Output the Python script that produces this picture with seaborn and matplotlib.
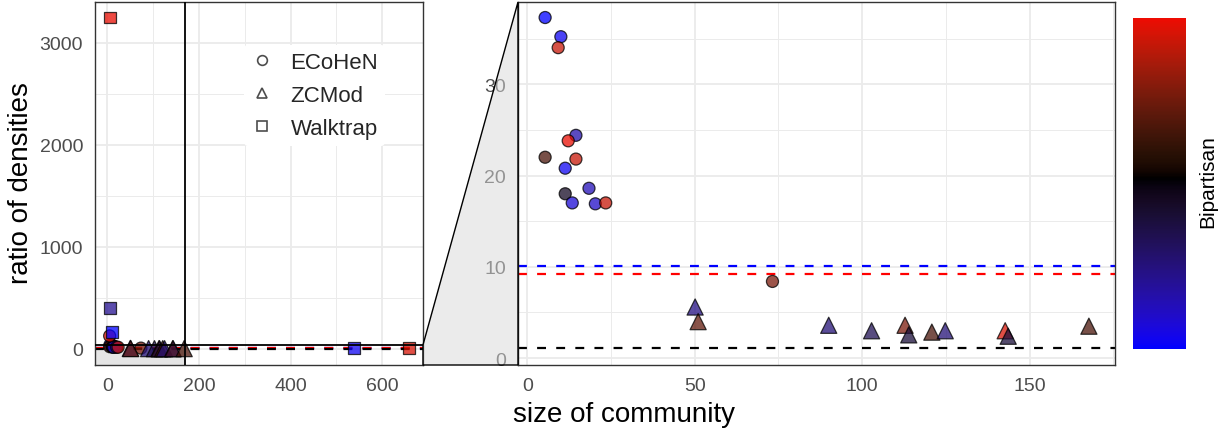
import numpy as np
import pandas as pd
import matplotlib
matplotlib.use("Agg")
import matplotlib.pyplot as plt
import seaborn as sns
from matplotlib.colors import ListedColormap, Normalize
from matplotlib.patches import Polygon, Rectangle
from matplotlib.lines import Line2D
from matplotlib.ticker import MultipleLocator

# ---- community measurements per detection method ----
ecohen_size = [5.3, 10.0, 9.2, 14.5, 12.2, 5.3, 14.5, 11.3, 18.4, 11.3, 13.4, 20.3, 23.4, 73.2, 5.0]
ecohen_ratio = [37.3, 35.2, 34.0, 24.4, 23.8, 22.0, 21.8, 20.8, 18.6, 18.0, 17.0, 16.9, 17.0, 8.4, 128.0]
ecohen_bip = [-1.0, -0.95, 0.8, -0.7, 0.92, 0.3, 0.8, -0.95, -0.75, -0.15, -0.85, -0.8, 0.8, 0.5, 0.9]

zcmod_size = [50.1, 51.0, 90.0, 102.8, 112.8, 113.9, 120.8, 124.8, 142.7, 143.6, 167.7]
zcmod_ratio = [5.6, 4.0, 3.6, 3.0, 3.6, 2.55, 2.85, 3.0, 3.0, 2.4, 3.5]
zcmod_bip = [-0.55, 0.4, -0.5, -0.35, 0.5, -0.25, 0.3, -0.5, 0.85, -0.25, 0.3]

walktrap_size = [5.0, 5.0, 10.0, 538.0, 659.0]
walktrap_ratio = [3245.0, 401.0, 163.0, 7.0, 7.0]
walktrap_bip = [0.92, -0.6, -1.0, -0.95, 0.85]

methods = ["ECoHeN", "ZCMod", "Walktrap"]

# reference density ratios (dashed lines)
ref_ratio = [10.1, 9.25, 1.1]
ref_color = ["#0000ff", "#ff0000", "#000000"]

# zoom window drawn in the right panel
zoom_x = (-2.8, 175.5)
zoom_y = (-0.75, 39.0)
full_x = (-27.0, 689.0)
full_y = (-157.0, 3397.0)
zoom_mark_x = 170.0
zoom_mark_y = 40.0

df = pd.concat([
    pd.DataFrame({"size": ecohen_size, "ratio": ecohen_ratio, "bip": ecohen_bip, "method": "ECoHeN"}),
    pd.DataFrame({"size": zcmod_size, "ratio": zcmod_ratio, "bip": zcmod_bip, "method": "ZCMod"}),
    pd.DataFrame({"size": walktrap_size, "ratio": walktrap_ratio, "bip": walktrap_bip, "method": "Walktrap"}),
], ignore_index=True)

# ---- blue / black / red diverging palette interpolated in CIELAB ----
_M = np.array([[0.4124564, 0.3575761, 0.1804375],
               [0.2126729, 0.7151522, 0.0721750],
               [0.0193339, 0.1191920, 0.9503041]])
_W = np.array([0.95047, 1.0, 1.08883])


def to_lab(rgb):
    c = np.asarray(rgb, float)
    lin = np.where(c <= 0.04045, c / 12.92, ((c + 0.055) / 1.055) ** 2.4)
    t = (lin @ _M.T) / _W
    d = 6 / 29
    f = np.where(t > d ** 3, np.cbrt(t), t / (3 * d * d) + 4 / 29)
    return np.stack([116 * f[..., 1] - 16,
                     500 * (f[..., 0] - f[..., 1]),
                     200 * (f[..., 1] - f[..., 2])], -1)


def from_lab(lab):
    fy = (lab[..., 0] + 16) / 116
    f = np.stack([fy + lab[..., 1] / 500, fy, fy - lab[..., 2] / 200], -1)
    d = 6 / 29
    t = np.where(f > d, f ** 3, 3 * d * d * (f - 4 / 29))
    lin = np.clip((t * _W) @ np.linalg.inv(_M).T, 0, 1)
    c = np.where(lin <= 0.0031308, 12.92 * lin, 1.055 * lin ** (1 / 2.4) - 0.055)
    return np.clip(c, 0, 1)


vmin, vmax = -1.0, 0.938
lab_blue, lab_black, lab_red = to_lab([0, 0, 1]), to_lab([0, 0, 0]), to_lab([1, 0, 0])
vals = np.linspace(vmin, vmax, 256)
span = max(abs(vmin), abs(vmax))
cols = []
for v in vals:
    s = abs(v) / span
    end = lab_blue if v < 0 else lab_red
    cols.append(from_lab(lab_black + s * (end - lab_black)))
cmap = ListedColormap(np.array(cols))
norm = Normalize(vmin=vmin, vmax=vmax)

# ---- figure ----
sns.set_style("white")
plt.rcParams["font.family"] = ["Liberation Sans", "DejaVu Sans"]

W, H = 1225, 431
fig = plt.figure(figsize=(W / 100, H / 100), dpi=100)
axL = fig.add_axes([95 / W, 1 - 366 / H, 328 / W, 363 / H])
axR = fig.add_axes([518 / W, 1 - 366 / H, 597 / W, 363 / H])
cax = fig.add_axes([1133 / W, 1 - 350 / H, 53 / W, 331 / H])


def style(ax, xmaj, ymaj):
    ax.set_facecolor("white")
    ax.xaxis.set_major_locator(MultipleLocator(xmaj))
    ax.xaxis.set_minor_locator(MultipleLocator(xmaj / 2))
    ax.yaxis.set_major_locator(MultipleLocator(ymaj))
    ax.yaxis.set_minor_locator(MultipleLocator(ymaj / 2))
    ax.grid(which="major", color="#ebebeb", lw=1.3)
    ax.grid(which="minor", color="#ebebeb", lw=0.7)
    ax.set_axisbelow(True)
    for sp in ax.spines.values():
        sp.set_color("#333333")
        sp.set_linewidth(1.0)
    ax.tick_params(which="major", length=4, width=1.0, color="#333333",
                   labelcolor="#4d4d4d", labelsize=14, pad=4.5)
    ax.tick_params(which="minor", length=0)
    ax.set_xlabel("")
    ax.set_ylabel("")


for ax in (axL, axR):
    for yv, c in zip(ref_ratio, ref_color):
        ax.axhline(yv, color=c, lw=1.6, dashes=(4.0, 4.6), zorder=2)
    sns.scatterplot(data=df, x="size", y="ratio", hue="bip", palette=cmap, hue_norm=norm,
                    style="method", markers={"ECoHeN": "o", "ZCMod": "^", "Walktrap": "s"},
                    size="method", sizes={"ECoHeN": 75, "ZCMod": 135, "Walktrap": 72},
                    alpha=0.75, edgecolor="black", linewidth=0.9, legend=False, ax=ax, zorder=3)

axL.set_xlim(*full_x)
axL.set_ylim(*full_y)
axR.set_xlim(*zoom_x)
axR.set_ylim(*zoom_y)
style(axL, 200, 1000)
style(axR, 50, 10)

# zoom indicator on the overview panel
axL.add_patch(Rectangle((full_x[0], full_y[0]), zoom_mark_x - full_x[0], zoom_mark_y - full_y[0],
                        facecolor="#e5e5e5", edgecolor="none", zorder=1))
axL.axvline(zoom_mark_x, color="black", lw=1.3, zorder=4)
axL.axhline(zoom_mark_y, color="black", lw=1.3, zorder=4)

# connector between the two panels
to_fig = fig.transFigure.inverted()
p_top_left = to_fig.transform(axL.transData.transform((full_x[1], zoom_mark_y)))
p_bot_left = to_fig.transform(axL.transData.transform((full_x[1], full_y[0])))
p_top_right = to_fig.transform(axR.transAxes.transform((0, 1)))
p_bot_right = to_fig.transform(axR.transAxes.transform((0, 0)))
fig.patches.append(Polygon([p_top_left, p_top_right, p_bot_right, p_bot_left], closed=True,
                           transform=fig.transFigure, facecolor=(0.85, 0.85, 0.85, 0.5),
                           edgecolor="black", lw=1.0, zorder=5))

# shape legend
handles = [Line2D([], [], marker=m, ls="none", mfc="none", mec="#4d4d4d", mew=1.2, ms=7)
           for m in ("o", "^", "s")]
leg = axL.legend(handles, methods, loc="upper left", bbox_to_anchor=(0.42, 0.912),
                 frameon=True, facecolor="white", edgecolor="none", framealpha=1,
                 fontsize=16, handlelength=1.0, handletextpad=0.8, labelspacing=0.55,
                 borderpad=0.3)
leg.set_zorder(6)

# colour bar
sm = plt.cm.ScalarMappable(norm=norm, cmap=cmap)
cb = fig.colorbar(sm, cax=cax)
cb.outline.set_visible(False)
cb.set_ticks([0])
cax.minorticks_off()
cax.tick_params(axis="y", which="both", direction="in", left=True, right=True,
                labelleft=False, labelright=False, length=7, width=1, color="white")
fig.text(1208 / W, 1 - 182 / H, "Bipartisan", rotation=90, ha="center", va="center",
         fontsize=15, color="black")

# axis titles
fig.text(21 / W, 1 - 183 / H, "ratio of densities", rotation=90, ha="center", va="center",
         fontsize=20, color="black")
fig.text(624 / W, 1 - 422 / H, "size of community", ha="center", va="baseline",
         fontsize=20, color="black")

fig.savefig("out.png", dpi=100)
